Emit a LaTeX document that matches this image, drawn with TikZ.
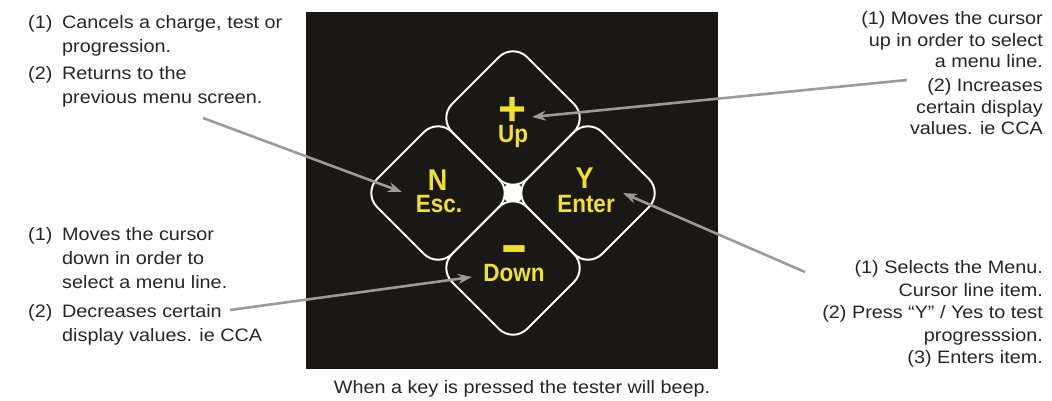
\documentclass[tikz,border=0pt]{standalone}
\usepackage{fontspec}
\setmainfont{Liberation Sans}[FakeStretch=1.1]
\newfontfamily\keyfont{Liberation Sans}[FakeStretch=0.9]
\newfontfamily\signfont{Liberation Sans}
\usetikzlibrary{shapes.geometric,arrows.meta}
\definecolor{panel}{RGB}{26,23,23}
\definecolor{keyyellow}{RGB}{240,226,40}
\definecolor{txt}{RGB}{38,38,38}
\definecolor{arrowgray}{RGB}{155,155,155}
\newcommand{\kword}{\keyfont\bfseries\fontsize{25}{26}\selectfont}
\newcommand{\kletter}{\keyfont\bfseries\fontsize{30}{23}\selectfont}
\begin{document}
\begin{tikzpicture}[x=1pt,y=-1pt,
  key/.style={diamond, aspect=1, draw=white, line width=2pt, minimum width=150pt, minimum height=150pt, inner sep=0pt, outer sep=0pt, rounded corners=20pt},
  hubstyle/.style={rectangle, fill=white, minimum width=16pt, minimum height=16pt, inner sep=0pt, rounded corners=2pt},
  keylabel/.style={text=keyyellow, font=\kletter, inner sep=0pt, anchor=base},
  desc/.style={text=txt, font=\fontsize{18}{24}\selectfont, inner sep=0pt},
  pointer/.style={draw=arrowgray, line width=2.6pt, -{Stealth[length=14pt,width=10pt]}}
]
\useasboundingbox (0,0) rectangle (1052,400);
\fill[white] (0,0) rectangle (1052,400);

% panel
\node[fill=panel, minimum width=412pt, minimum height=357pt, inner sep=0pt, outer sep=0pt, anchor=north west] (panel) at (306,12) {};

% keys
\node[key] (up) at (513,118) {};
\node[key] (esc) at (438,193) {};
\node[key] (enter) at (588,193) {};
\node[key] (down) at (513,268) {};
\node[hubstyle] (hub) at (513,193) {};

% key labels
\node[keylabel] (uplbl) at (513,125) {%
  \begin{tabular}[t]{@{}c@{}}
  {\signfont\bfseries\fontsize{48}{48}\selectfont +}\\[-7pt]
  {\kword Up}
  \end{tabular}};
\node[keylabel] (esclbl) at (439,190) {%
  \begin{tabular}[t]{@{}c@{}}
  \hspace*{-3pt}N\\[-2pt]
  {\kword Esc.}
  \end{tabular}};
\node[keylabel] (enterlbl) at (586,188) {%
  \begin{tabular}[t]{@{}c@{}}
  \hspace*{-3pt}Y\\[0pt]
  {\kword Enter}
  \end{tabular}};
\node[keylabel] (downlbl) at (514,267.5) {%
  \begin{tabular}[t]{@{}c@{}}
  {\signfont\bfseries\fontsize{43}{43}\selectfont\scalebox{1}[1.6]{–}}\\[-10.4pt]
  {\kword Down}
  \end{tabular}};

% descriptions
\node[desc, anchor=base west] (escdesc) at (28,28.5) {%
  \begin{tabular}[t]{@{}l@{}l@{}}
  \makebox[34pt][l]{(1)} & Cancels a charge, test or\\
   & progression.\\[3pt]
  \makebox[34pt][l]{(2)} & Returns to the\\
   & previous menu screen.
  \end{tabular}};

\node[desc, anchor=base west] (downdesc) at (28,240.5) {%
  \begin{tabular}[t]{@{}l@{}l@{}}
  \makebox[34pt][l]{(1)} & Moves the cursor\\
   & down in order to\\
   & select a menu line.\\[5pt]
  \makebox[34pt][l]{(2)} & Decreases certain\\
   & display values. ie CCA
  \end{tabular}};

\node[desc, anchor=base east, font=\fontsize{18}{21.5}\selectfont] (updesc) at (1043,24.5) {%
  \begin{tabular}[t]{@{}r@{}}
  (1) Moves the cursor\\
  up in order to select\\
  a menu line.\\[2.5pt]
  (2) Increases\\
  certain display\\
  values. ie CCA
  \end{tabular}};

\node[desc, anchor=base east, font=\fontsize{18}{22.5}\selectfont] (enterdesc) at (1043,273.5) {%
  \begin{tabular}[t]{@{}r@{}}
  (1) Selects the Menu.\\
  Cursor line item.\\
  (2) Press “Y” / Yes to test\\
  progresssion.\\
  (3) Enters item.
  \end{tabular}};

\node[desc, anchor=base] (caption) at (522,393.5) {When a key is pressed the tester will beep.};

% pointers
\coordinate (escfrom) at (203,118);
\coordinate (escto) at (402,192);
\coordinate (upfrom) at (907,80);
\coordinate (upto) at (532,117);
\coordinate (enterfrom) at (805,272);
\coordinate (enterto) at (623,193);
\coordinate (downfrom) at (230,310);
\coordinate (downto) at (472,277);
\draw[pointer] (escfrom) -- (escto);
\draw[pointer] (upfrom) -- (upto);
\draw[pointer] (enterfrom) -- (enterto);
\draw[pointer] (downfrom) -- (downto);
\end{tikzpicture}
\end{document}
